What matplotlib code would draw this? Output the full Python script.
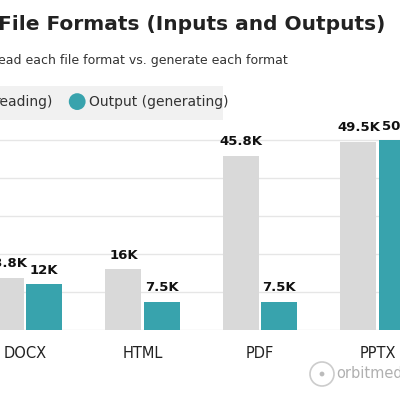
import matplotlib
matplotlib.use("Agg")
import matplotlib.pyplot as plt
from matplotlib.patches import Rectangle, Circle

formats = ["DOCX", "HTML", "PDF", "PPTX"]
input_k = [13.8, 16, 45.8, 49.5]
output_k = [12, 7.5, 7.5, 50]
input_labels = ["13.8K", "16K", "45.8K", "49.5K"]
output_labels = ["12K", "7.5K", "7.5K", "50K"]

GRAY = "#d9d9d9"
TEAL = "#38a3ad"

fig = plt.figure(figsize=(4, 4), dpi=100)
ax = fig.add_axes([0, 0.175, 1, 0.525])

x = list(range(len(formats)))
w = 0.306
off = 0.163
ax.bar([i - off for i in x], input_k, w, color=GRAY, zorder=2)
ax.bar([i + off for i in x], output_k, w, color=TEAL, zorder=2)
for i in x:
    ax.text(i - off, input_k[i] + 2, input_labels[i], ha="center", va="bottom",
            fontsize=9.5, fontweight="bold", color="#111111")
    ax.text(i + off, output_k[i] + 2, output_labels[i], ha="center", va="bottom",
            fontsize=9.5, fontweight="bold", color="#111111")

ax.set_xlim(-0.213, 3.191)
ax.set_ylim(0, 55.3)
ax.set_yticks([10, 20, 30, 40, 50])
ax.grid(axis="y", color="#e6e6e6", linewidth=1, zorder=0)
ax.tick_params(left=False, labelleft=False, bottom=False, labelsize=10.5, pad=8)
ax.set_xticks(x)
ax.set_xticklabels(formats, color="#222222")
for s in ax.spines.values():
    s.set_visible(False)
ax.axhline(0, color="#e6e6e6", linewidth=1, zorder=1)

# title and subtitle (cropped on the left in the reference)
fig.text(-0.005, 0.94, "File Formats (Inputs and Outputs)", fontsize=14.5,
         fontweight="bold", color="#222222", va="center", ha="left")
fig.text(-0.005, 0.848, "ead each file format vs. generate each format", fontsize=9,
         color="#333333", va="center", ha="left")

# legend box
fig.patches.append(Rectangle((0, 0.70), 0.558, 0.085, transform=fig.transFigure,
                             facecolor="#f1f1f1", edgecolor="none"))
fig.text(0.132, 0.746, "reading)", fontsize=10, color="#333333", va="center", ha="right")
fig.patches.append(Circle((0.193, 0.746), 0.021, transform=fig.transFigure,
                          facecolor=TEAL, edgecolor="none"))
fig.text(0.222, 0.746, "Output (generating)", fontsize=10, color="#333333", va="center")

# watermark
fig.patches.append(Circle((0.805, 0.065), 0.03, transform=fig.transFigure,
                          facecolor="none", edgecolor="#cccccc", linewidth=1.2))
fig.patches.append(Circle((0.805, 0.065), 0.006, transform=fig.transFigure,
                          facecolor="#bbbbbb", edgecolor="none"))
fig.text(0.84, 0.065, "orbitmedia", fontsize=10.5, color="#b0b0b0", va="center")

fig.savefig("out.png", dpi=100)
